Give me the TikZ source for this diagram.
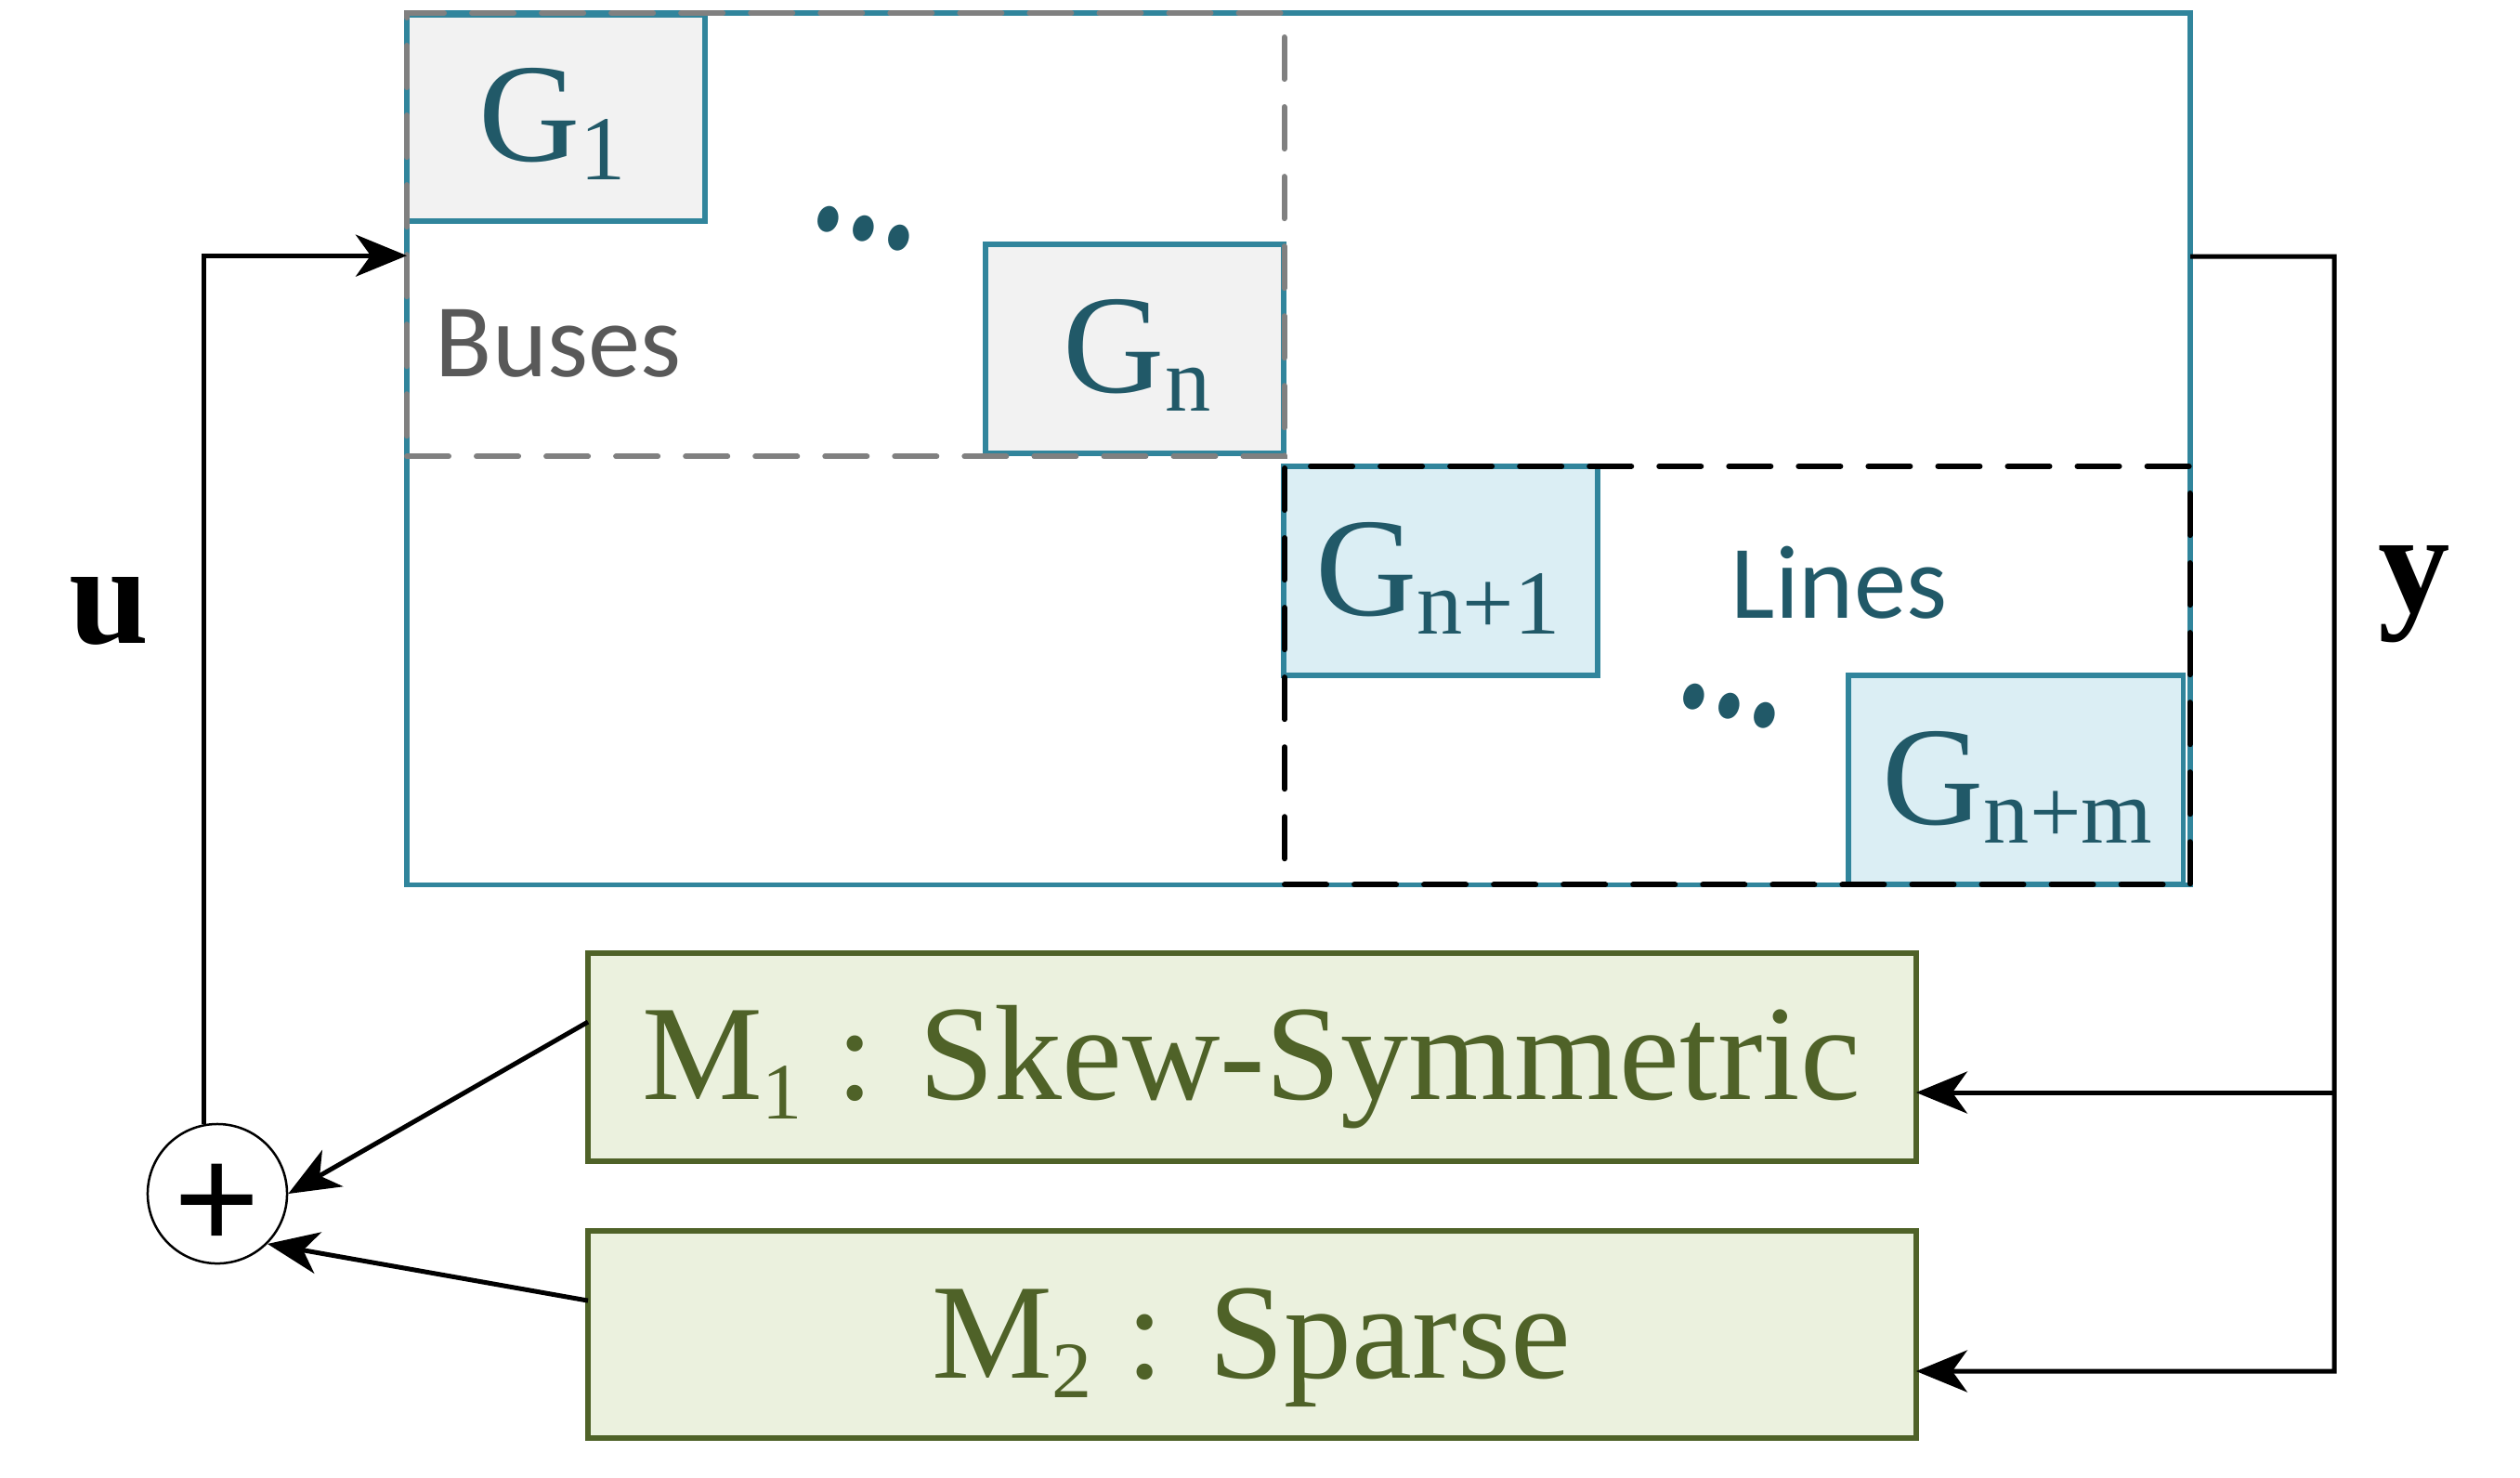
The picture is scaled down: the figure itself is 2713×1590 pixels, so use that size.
\documentclass[tikz,border=0pt]{standalone}
\usepackage{fontspec}
\setmainfont{Liberation Serif}
\newfontfamily\calib{Carlito}
\newfontfamily\arialf{Liberation Sans}
\usetikzlibrary{arrows.meta,calc,shapes.geometric}
\definecolor{tealb}{HTML}{31859C}
\definecolor{tealt}{HTML}{215968}
\definecolor{grayfill}{HTML}{F2F2F2}
\definecolor{bluefill}{HTML}{DBEEF4}
\definecolor{greenfill}{HTML}{EBF1DE}
\definecolor{greenb}{HTML}{4F6228}
\definecolor{busgray}{HTML}{595959}
\definecolor{dashgray}{HTML}{808080}
\newcommand\gsub[1]{\raisebox{-0.2cm}{\fontsize{28}{28}\selectfont #1}}
\newcommand\msub[1]{\raisebox{-0.21cm}{\fontsize{24.5}{24.5}\selectfont #1}}
\begin{document}
\begin{tikzpicture}[x=0.01cm,y=-0.01cm,
  rectbox/.style={rectangle, inner sep=0pt, outer sep=0pt, anchor=north west},
  sysbox/.style={rectbox, draw=tealb, line width=0.055cm},
  gbox/.style={rectbox, draw=tealb, line width=0.055cm, fill=grayfill},
  bbox/.style={rectbox, draw=tealb, line width=0.055cm, fill=bluefill},
  mbox/.style={rectbox, draw=greenb, line width=0.055cm, fill=greenfill},
  dashbox/.style={rectbox, line width=0.06cm, dash pattern=on 0.45cm off 0.3cm, line cap=round},
  gtext/.style={text=tealt, font=\fontsize{43}{43}\selectfont, inner sep=0pt, anchor=base},
  mtext/.style={text=greenb, font=\fontsize{41.5}{41.5}\selectfont, inner sep=0pt, anchor=base},
  labtext/.style={font=\calib\fontsize{32}{32}\selectfont, inner sep=0pt, anchor=base},
  vartext/.style={font=\bfseries\fontsize{44}{44}\selectfont, inner sep=0pt, anchor=base},
  dotstext/.style={text=tealt, font=\calib\bfseries\fontsize{42}{42}\selectfont, inner sep=0pt, rotate=-15, yscale=1.3},
  conn/.style={line width=0.05cm, line join=miter},
  arr/.style={conn, -{Stealth[length=0.55cm,width=0.45cm,inset=0.16cm]}},
  sumnode/.style={circle, draw, line width=0.025cm, minimum size=1.5cm, inner sep=0pt}
]
\useasboundingbox (0,0) rectangle (2713,1590);

% main system block
\node[sysbox, minimum width=19.19cm, minimum height=9.38cm] (sys) at (438,14) {};

% generator blocks
\node[gbox, minimum width=3.21cm, minimum height=2.22cm] (g1) at (438,16) {};
\node[gbox, minimum width=3.21cm, minimum height=2.25cm] (gn) at (1061,263) {};
\node[bbox, minimum width=3.38cm, minimum height=2.25cm] (gn1) at (1382,502) {};
\node[bbox, minimum width=3.60cm, minimum height=2.25cm] (gnm) at (1990,727) {};

% dashed groupings
\node[dashbox, draw=dashgray, minimum width=9.44cm, minimum height=4.77cm] (buses) at (438,14) {};
\node[dashbox, draw=black, minimum width=9.74cm, minimum height=4.50cm] (lines) at (1383,502) {};

% texts in blocks
\node[gtext] (tg1) at (595,173) {G\gsub{1}};
\node[gtext] (tgn) at (1224,422) {G\gsub{n}};
\node[gtext] (tgn1) at (1548,662) {G\gsub{n+1}};
\node[gtext] (tgnm) at (2172,887) {G\gsub{n+m}};
\node[labtext, text=busgray] (tbuses) at (601,405) {Buses};
\node[labtext, text=tealt] (tlines) at (1980,665) {Lines};
\node[dotstext] (dots1) at (930,246) {...};
\node[dotstext] (dots2) at (1862,760) {...};

% controller blocks
\node[mbox, minimum width=14.29cm, minimum height=2.24cm] (m1) at (633,1026) {};
\node[mbox, minimum width=14.29cm, minimum height=2.23cm] (m2) at (633,1325) {};
\node[mtext] (tm1) at (1347,1183) {M\msub{1} : Skew-Symmetric};
\node[mtext] (tm2) at (1347,1483) {M\msub{2} : Sparse};

% summation
\node[sumnode] (sum) at (234,1285) {};
\node[font=\arialf\fontsize{45}{45}\selectfont, inner sep=0pt, anchor=base] (plus) at (234,1344) {+};

% signal labels
\node[vartext] (lu) at (118,692) {u};
\node[vartext] (ly) at (2599,658) {y};

% connectors
\coordinate (uin) at ([yshift=2.08cm]sys.west);
\coordinate (ycorner) at (2513,276);
\coordinate (ybot) at (2513,1476);
\coordinate (ym1) at (2513,1176);

\draw[arr] (sum.101) |- (uin);
\draw[arr] ([yshift=2.07cm]sys.east) -- (ycorner) -- (ybot) -- (m2.east |- ybot);
\draw[arr] (ym1) -- (m1.east |- ym1);
\draw[arr] ([yshift=0.38cm]m1.west) -- (sum.east);
\draw[arr] ([yshift=0.365cm]m2.west) -- (sum.south east);
\end{tikzpicture}
\end{document}
